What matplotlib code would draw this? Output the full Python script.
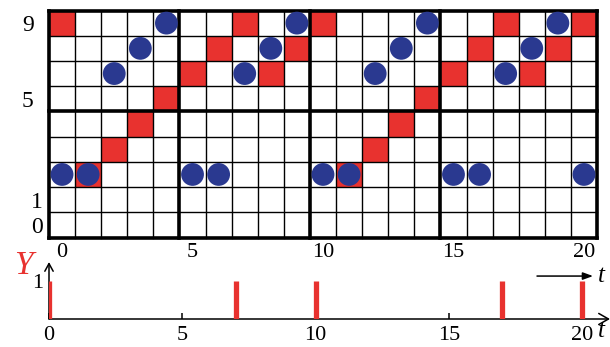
import numpy as np
import matplotlib
matplotlib.use("Agg")
import matplotlib.pyplot as plt
from matplotlib.patches import Rectangle

plt.rcParams['font.family'] = ['Liberation Serif', 'DejaVu Serif']
plt.rcParams['mathtext.fontset'] = 'stix'

# State sequence over time steps t = 0..20
t_steps = list(range(21))
red_state = [8, 2, 3, 4, 5, 6, 7, 8, 6, 7, 8, 2, 3, 4, 5, 6, 7, 8, 6, 7, 8]
blue_state = [2, 2, 6, 7, 8, 2, 2, 6, 7, 8, 2, 2, 6, 7, 8, 2, 2, 6, 7, 8, 2]
n_rows = 9

# Output signal Y over the same time steps
y_output = [1, 0, 0, 0, 0, 0, 0, 1, 0, 0, 1, 0, 0, 0, 0, 0, 0, 1, 0, 0, 1]

grid_xticks = [0, 5, 10, 15, 20]
grid_xticklabels = ["0", "5", "10", "15", "20"]
grid_yticks = [0, 1, 5, 8]
grid_yticklabels = ["0", "1", "5", "9"]
grid_ypads = [4.5, 4.5, 11.0, 11.0]

low_xticks = [0, 5, 10, 15, 20]
low_xticklabels = ["0", "5", "10", "15", "20"]

RED = "#E8322F"
BLUE = "#2A3990"
W, H = 610, 347

fig = plt.figure(figsize=(W / 100, H / 100), dpi=100)
fig.patch.set_facecolor("white")


def frac_box(x0, y_top, x1, y_bot):
    return [x0 / W, 1 - y_bot / H, (x1 - x0) / W, (y_bot - y_top) / H]


# ---- upper grid panel ----
ax = fig.add_axes(frac_box(49, 10.5, 597, 237.5))
n_cols = len(t_steps)
ax.set_xlim(-0.5, n_cols - 0.5)
ax.set_ylim(-0.5, n_rows - 0.5)
for s in ax.spines.values():
    s.set_visible(False)

for t, r in zip(t_steps, red_state):
    ax.add_patch(Rectangle((t - 0.5, r - 0.5), 1, 1, facecolor=RED,
                           edgecolor="none", zorder=1))

thin, thick = 1.0, 2.6
for k in range(n_cols + 1):
    lw = thick if k in (0, 5, 10, 15, n_cols) else thin
    ax.plot([k - 0.5, k - 0.5], [-0.5, n_rows - 0.5], color="black",
            lw=lw, zorder=2, solid_capstyle="projecting", clip_on=False)
for k in range(n_rows + 1):
    lw = thick if k in (0, 5, n_rows) else thin
    ax.plot([-0.5, n_cols - 0.5], [k - 0.5, k - 0.5], color="black",
            lw=lw, zorder=2, solid_capstyle="projecting", clip_on=False)

ax.scatter(t_steps, blue_state, s=270, color=BLUE, edgecolors="none",
           zorder=3, clip_on=False)

ax.set_xticks(grid_xticks)
ax.set_xticklabels(grid_xticklabels, fontsize=16)
ax.set_yticks(grid_yticks)
ax.set_yticklabels(grid_yticklabels, fontsize=17)
ax.tick_params(axis="both", length=0)
ax.tick_params(axis="x", pad=4)
for tick, p in zip(ax.yaxis.get_major_ticks(), grid_ypads):
    tick.set_pad(p)

# ---- lower output panel ----
x_per_unit = (582 - 49) / 20
x_right = (610 - 49) / x_per_unit
y_top = (319 - 262) / 38
axl = fig.add_axes(frac_box(49, 262, 610, 319))
axl.set_xlim(0, x_right)
axl.set_ylim(0, y_top)
axl.patch.set_alpha(0)
for s in axl.spines.values():
    s.set_visible(False)

axl.annotate("", xy=(x_right, 0), xytext=(0, 0),
             arrowprops=dict(arrowstyle="->,head_length=0.7,head_width=0.4",
                             lw=1.1, color="black", shrinkA=0, shrinkB=0),
             annotation_clip=False)
axl.annotate("", xy=(0, y_top), xytext=(0, 0),
             arrowprops=dict(arrowstyle="->,head_length=0.55,head_width=0.3",
                             lw=1.1, color="black", shrinkA=0, shrinkB=0),
             annotation_clip=False)

spike_t = [t for t, v in zip(t_steps, y_output) if v > 0]
spike_v = [v for v in y_output if v > 0]
axl.vlines(spike_t, 0, spike_v, color=RED, lw=3.8, zorder=4)

axl.set_xticks(low_xticks)
axl.set_xticklabels(low_xticklabels, fontsize=16)
axl.tick_params(axis="x", direction="in", length=4.5, width=1.1, pad=5)
axl.set_yticks([1])
axl.set_yticklabels(["1"], fontsize=16)
axl.tick_params(axis="y", length=0, pad=4)

# time direction arrow and axis names
axl.annotate("", xy=((593 - 49) / x_per_unit, 1.13),
             xytext=((537 - 49) / x_per_unit, 1.13),
             arrowprops=dict(arrowstyle="-|>,head_length=0.6,head_width=0.22",
                             lw=1.1, color="black", shrinkA=0, shrinkB=0),
             annotation_clip=False)
axl.text((598 - 49) / x_per_unit, 1.13, "t", fontsize=18, style="italic",
         ha="left", va="center", clip_on=False)
axl.text((598 - 49) / x_per_unit, -0.32, "t", fontsize=18, style="italic",
         ha="left", va="center", clip_on=False)
fig.text(23 / W, 1 - 266 / H, "Y", fontsize=24, style="italic", color=RED,
         ha="center", va="center")

fig.savefig("out.png", dpi=100, facecolor="white")
